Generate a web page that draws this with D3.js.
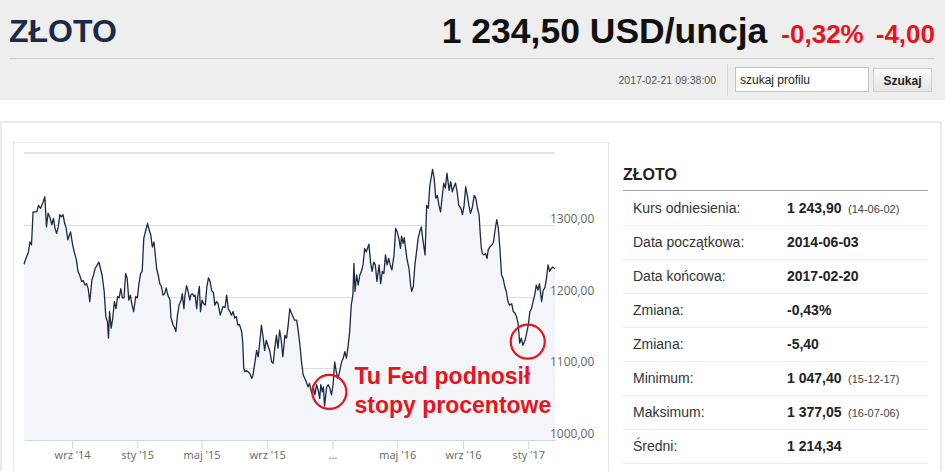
<!DOCTYPE html>
<html><head><meta charset="utf-8">
<script src="https://cdn.jsdelivr.net/npm/d3@7"></script>
<style>
html,body{margin:0;padding:0;background:#fff;overflow:hidden}
svg{display:block}
</style></head><body>
<svg id="c" width="945" height="471"></svg>
<script>
// ---- data ----
const dates = [
"2014-06-03","2014-06-07","2014-06-11","2014-06-14","2014-06-17","2014-06-20","2014-06-27","2014-06-30","2014-07-04","2014-07-09",
"2014-07-12","2014-07-15","2014-07-18","2014-07-22","2014-07-25","2014-07-28","2014-07-31","2014-08-03","2014-08-06","2014-08-09",
"2014-08-12","2014-08-15","2014-08-18","2014-08-21","2014-08-24","2014-08-29","2014-09-02","2014-09-05","2014-09-09","2014-09-12",
"2014-09-15","2014-09-19","2014-09-22","2014-09-25","2014-09-28","2014-10-01","2014-10-04","2014-10-08","2014-10-11","2014-10-14",
"2014-10-18","2014-10-21","2014-10-24","2014-10-27","2014-10-31","2014-11-03","2014-11-06","2014-11-08","2014-11-10","2014-11-13",
"2014-11-16","2014-11-19","2014-11-22","2014-11-25","2014-11-28","2014-12-01","2014-12-04","2014-12-07","2014-12-10","2014-12-13",
"2014-12-16","2014-12-19","2014-12-22","2014-12-25","2014-12-29","2015-01-01","2015-01-04","2015-01-07","2015-01-10","2015-01-13",
"2015-01-17","2015-01-20","2015-01-23","2015-01-26","2015-01-29","2015-02-01","2015-02-03","2015-02-06","2015-02-09","2015-02-12",
"2015-02-15","2015-02-18","2015-02-21","2015-02-24","2015-02-27","2015-03-03","2015-03-05","2015-03-09","2015-03-12","2015-03-14",
"2015-03-17","2015-03-20","2015-03-24","2015-03-26","2015-03-29","2015-03-31","2015-04-03","2015-04-06","2015-04-09","2015-04-11",
"2015-04-14","2015-04-17","2015-04-19","2015-04-22","2015-04-24","2015-04-27","2015-04-29","2015-05-02","2015-05-05","2015-05-08",
"2015-05-11","2015-05-14","2015-05-17","2015-05-20","2015-05-23","2015-05-26","2015-05-29","2015-06-01","2015-06-05","2015-06-08",
"2015-06-10","2015-06-14","2015-06-17","2015-06-20","2015-06-23","2015-06-26","2015-06-29","2015-07-02","2015-07-05","2015-07-08",
"2015-07-11","2015-07-15","2015-07-17","2015-07-19","2015-07-21","2015-07-24","2015-07-27","2015-07-30","2015-08-03","2015-08-05",
"2015-08-09","2015-08-12","2015-08-15","2015-08-18","2015-08-21","2015-08-24","2015-08-27","2015-08-30","2015-09-02","2015-09-06",
"2015-09-09","2015-09-12","2015-09-15","2015-09-18","2015-09-21","2015-09-24","2015-09-27","2015-09-30","2015-10-04","2015-10-07",
"2015-10-10","2015-10-13","2015-10-16","2015-10-19","2015-10-22","2015-10-26","2015-10-29","2015-11-01","2015-11-04","2015-11-07",
"2015-11-10","2015-11-13","2015-11-16","2015-11-19","2015-11-23","2015-11-26","2015-11-29","2015-12-02","2015-12-05","2015-12-08",
"2015-12-10","2015-12-13","2015-12-15","2015-12-17","2015-12-21","2015-12-24","2015-12-27","2015-12-30","2016-01-02","2016-01-05",
"2016-01-08","2016-01-11","2016-01-14","2016-01-18","2016-01-21","2016-01-24","2016-01-27","2016-01-30","2016-02-02","2016-02-05",
"2016-02-08","2016-02-10","2016-02-12","2016-02-15","2016-02-18","2016-02-21","2016-02-24","2016-02-27","2016-03-01","2016-03-04",
"2016-03-09","2016-03-12","2016-03-15","2016-03-18","2016-03-21","2016-03-24","2016-03-28","2016-03-31","2016-04-03","2016-04-06",
"2016-04-09","2016-04-12","2016-04-15","2016-04-18","2016-04-21","2016-04-25","2016-04-28","2016-05-01","2016-05-04","2016-05-07",
"2016-05-09","2016-05-12","2016-05-14","2016-05-17","2016-05-19","2016-05-23","2016-05-26","2016-05-28","2016-05-31","2016-06-03",
"2016-06-06","2016-06-09","2016-06-12","2016-06-15","2016-06-18","2016-06-22","2016-06-25","2016-06-28","2016-07-01","2016-07-06",
"2016-07-09","2016-07-12","2016-07-15","2016-07-18","2016-07-21","2016-07-24","2016-07-27","2016-07-30","2016-08-02","2016-08-06",
"2016-08-09","2016-08-12","2016-08-15","2016-08-18","2016-08-21","2016-08-24","2016-08-28","2016-08-31","2016-09-03","2016-09-06",
"2016-09-09","2016-09-12","2016-09-15","2016-09-18","2016-09-22","2016-09-25","2016-09-28","2016-10-01","2016-10-03","2016-10-05",
"2016-10-07","2016-10-10","2016-10-13","2016-10-16","2016-10-18","2016-10-21","2016-10-25","2016-10-28","2016-10-31","2016-11-03",
"2016-11-06","2016-11-09","2016-11-12","2016-11-15","2016-11-18","2016-11-21","2016-11-24","2016-11-27","2016-12-01","2016-12-04",
"2016-12-07","2016-12-10","2016-12-13","2016-12-16","2016-12-19","2016-12-22","2016-12-26","2016-12-29","2017-01-01","2017-01-04",
"2017-01-07","2017-01-10","2017-01-13","2017-01-16","2017-01-19","2017-01-22","2017-01-26","2017-01-29","2017-02-01","2017-02-04",
"2017-02-07","2017-02-10","2017-02-13","2017-02-16","2017-02-20"
];
const prices = [
1245,1254,1261,1276,1272,1318,1318,1327,1323,1332,
1339,1297,1316,1309,1300,1309,1295,1288,1297,1314,
1311,1314,1302,1295,1279,1290,1272,1262,1251,1235,
1230,1221,1222,1216,1218,1211,1193,1223,1230,1239,
1244,1248,1239,1230,1207,1172,1165,1142,1179,1156,
1170,1193,1183,1200,1198,1211,1198,1198,1232,1225,
1195,1202,1188,1179,1200,1198,1218,1232,1235,1281,
1293,1302,1293,1286,1269,1276,1262,1239,1230,1218,
1214,1202,1204,1212,1202,1195,1170,1160,1156,1151,
1174,1188,1195,1204,1183,1202,1215,1207,1195,1202,
1204,1200,1202,1183,1200,1214,1179,1195,1190,1188,
1214,1226,1221,1208,1206,1188,1193,1190,1174,1181,
1186,1185,1202,1183,1179,1174,1179,1170,1172,1160,
1161,1151,1137,1100,1095,1097,1095,1093,1086,1090,
1109,1125,1116,1137,1160,1144,1125,1139,1132,1123,
1109,1107,1128,1146,1128,1153,1139,1116,1146,1142,
1160,1183,1177,1172,1167,1167,1151,1132,1109,1091,
1086,1081,1074,1079,1065,1074,1063,1077,1070,1058,
1077,1067,1074,1047.4,1074,1077,1072,1063,1077,1109,
1095,1086,1095,1109,1114,1123,1114,1130,1151,1188,
1202,1246,1207,1230,1216,1230,1235,1244,1267,1262,
1273,1248,1235,1248,1244,1221,1244,1218,1235,1232,
1258,1244,1253,1244,1237,1258,1295,1290,1281,1267,
1284,1274,1282,1265,1253,1239,1216,1207,1214,1244,
1262,1281,1290,1297,1279,1258,1327,1323,1355,1377.05,
1365,1337,1341,1327,1318,1339,1358,1351,1372,1348,
1360,1346,1353,1358,1346,1327,1323,1314,1327,1353,
1341,1327,1316,1323,1341,1337,1323,1314,1290,1269,
1260,1258,1260,1253,1265,1269,1272,1276,1293,1307,
1295,1267,1230,1225,1214,1207,1193,1188,1190,1179,
1177,1172,1163,1135,1142,1132,1139,1149,1160,1179,
1183,1193,1202,1216,1209,1218,1193,1209,1212,1225,
1244,1235,1239,1241,1238.5
];
const yTicks = [1000, 1100, 1200, 1300];
const yTop = 1400;
const xTickDates = ["2014-09-01","2015-01-01","2015-05-01","2015-09-01","2016-01-01","2016-05-01","2016-09-01","2017-01-01"];
const xTickLabels = ["wrz '14","sty '15","maj '15","wrz '15","...","maj '16","wrz '16","sty '17"];
const circleDates = ["2015-12-26","2016-12-31"];
const circleValues = [1067, 1137];
const noteLines = ["Tu Fed podnosił","stopy procentowe"];
const noteDate = "2016-02-11";
const noteValues = [1078, 1038];
const statLabels = ["Kurs odniesienia:","Data początkowa:","Data końcowa:","Zmiana:","Zmiana:","Minimum:","Maksimum:","Średni:"];
const statValues = ["1 243,90","2014-06-03","2017-02-20","-0,43%","-5,40","1 047,40","1 377,05","1 214,34"];
const statNotes = ["(14-06-02)","","","","","(15-12-17)","(16-07-06)",""];

// ---- drawing ----
const parse = d3.utcParse("%Y-%m-%d");
const series = dates.map((d,i)=>({date:parse(d), value:prices[i]}));
const svg = d3.select("#c");
const RED = "#e8141c";
const SANS = "Liberation Sans, Arial, sans-serif";

// header
svg.append("rect").attr("x",0).attr("y",0).attr("width",945).attr("height",100).attr("fill","#eeeeee");
svg.append("text").attr("x",9).attr("y",42).text("ZŁOTO")
  .attr("font-family",SANS).attr("font-weight","bold").attr("font-size",32).attr("fill","#1c2a48");
const hdr = svg.append("text").attr("y",43).attr("text-anchor","end").attr("x",935)
  .attr("font-family",SANS).attr("font-weight","bold");
hdr.append("tspan").text("1 234,50 USD/uncja").attr("font-size",35.5).attr("fill","#111");
hdr.append("tspan").text("-0,32%").attr("font-size",26).attr("fill",RED).attr("dx",14);
hdr.append("tspan").text("-4,00").attr("font-size",26).attr("fill",RED).attr("dx",12);
svg.append("line").attr("x1",9).attr("x2",935).attr("y1",58.5).attr("y2",58.5).attr("stroke","#d2d2d2");
svg.append("text").attr("x",716).attr("y",84).attr("text-anchor","end").text("2017-02-21 09:38:00")
  .attr("font-family",SANS).attr("font-size",10.5).attr("fill","#555");
svg.append("line").attr("x1",727.5).attr("x2",727.5).attr("y1",64).attr("y2",96).attr("stroke","#d6d6d6");
svg.append("rect").attr("x",735.5).attr("y",67.5).attr("width",133).attr("height",24).attr("fill","#fff").attr("stroke","#c4c4c4");
svg.append("text").attr("x",740).attr("y",84).text("szukaj profilu")
  .attr("font-family",SANS).attr("font-size",12).attr("fill","#222");
const defs = svg.append("defs");
const g1 = defs.append("linearGradient").attr("id","btn").attr("x1",0).attr("x2",0).attr("y1",0).attr("y2",1);
g1.append("stop").attr("offset","0").attr("stop-color","#fbfbfb");
g1.append("stop").attr("offset","1").attr("stop-color","#e4e4e4");
svg.append("rect").attr("x",873.5).attr("y",68.5).attr("width",58).attr("height",23).attr("fill","url(#btn)").attr("stroke","#cfcfcf");
svg.append("text").attr("x",902.5).attr("y",85).attr("text-anchor","middle").text("Szukaj")
  .attr("font-family",SANS).attr("font-weight","bold").attr("font-size",12).attr("fill","#222");

// containers
svg.append("rect").attr("x",1).attr("y",122).attr("width",940).attr("height",400).attr("fill","none").attr("stroke","#ebebeb").attr("stroke-width",2);
svg.append("rect").attr("x",13.5).attr("y",142.5).attr("width",595).attr("height",400).attr("fill","none").attr("stroke","#e6e6e6");

// chart
const x = d3.scaleUtc().domain([parse(dates[0]), parse(dates[dates.length-1])]).range([24,555]);
const y = d3.scaleLinear().domain([1000, yTop]).range([440, 153]);
const plot = svg.append("g");
plot.selectAll("line.grid").data(yTicks.slice(1)).join("line").attr("class","grid")
  .attr("x1",x.range()[0]).attr("x2",x.range()[1])
  .attr("y1",d=>Math.round(y(d))+0.5).attr("y2",d=>Math.round(y(d))+0.5)
  .attr("stroke","#dedede");
plot.append("line").attr("x1",x.range()[0]).attr("x2",x.range()[1]).attr("y1",y(yTop)).attr("y2",y(yTop))
  .attr("stroke","#e6e6e6").attr("stroke-width",2);
plot.append("path").datum(series)
  .attr("d", d3.area().x(d=>x(d.date)).y0(y(1000)).y1(d=>y(d.value)))
  .attr("fill","#f4f5f8");
plot.append("path").datum(series)
  .attr("d", d3.line().x(d=>x(d.date)).y(d=>y(d.value)))
  .attr("fill","none").attr("stroke","#1b2947").attr("stroke-width",1.3).attr("stroke-linejoin","round");

const xAxis = d3.axisBottom(x).tickValues(xTickDates.map(parse)).tickFormat((d,i)=>xTickLabels[i])
  .tickSize(9).tickSizeOuter(0).tickPadding(2);
const ax = svg.append("g").attr("transform",`translate(0,${y(1000)})`).call(xAxis);
ax.select(".domain").attr("stroke","#ccd6eb");
ax.selectAll(".tick line").attr("stroke","#ccd6eb");
ax.selectAll(".tick text").attr("fill","#666").attr("font-family","Open Sans, sans-serif").attr("font-size",11);

const fmt = d3.formatLocale({decimal:",", thousands:"", grouping:[3], currency:["",""]}).format(".2f");
svg.selectAll("text.ylab").data(yTicks).join("text").attr("class","ylab")
  .attr("x",550).attr("y",d=>y(d)-2).text(d=>fmt(d))
  .attr("fill","#666").attr("font-family","Open Sans, sans-serif").attr("font-size",12);

// annotations
svg.selectAll("circle.mark").data(circleDates).join("circle").attr("class","mark")
  .attr("cx",(d)=>x(parse(d))).attr("cy",(d,i)=>y(circleValues[i])).attr("r",17)
  .attr("fill","none").attr("stroke",RED).attr("stroke-width",2.2);
svg.selectAll("text.note").data(noteLines).join("text").attr("class","note")
  .attr("x",x(parse(noteDate))).attr("y",(d,i)=>y(noteValues[i])).text(d=>d)
  .attr("fill",RED).attr("font-family",SANS).attr("font-weight","bold").attr("font-size",23);

// stats table
const tX = 623;
svg.append("text").attr("x",tX).attr("y",180).text("ZŁOTO")
  .attr("font-family",SANS).attr("font-weight","bold").attr("font-size",16).attr("fill","#222");
svg.append("line").attr("x1",tX).attr("x2",928).attr("y1",190.5).attr("y2",190.5).attr("stroke","#a8a8a8");
const rows = svg.selectAll("g.row").data(statLabels).join("g").attr("class","row")
  .attr("transform",(d,i)=>`translate(0,${191 + 34*i})`);
rows.append("line").attr("x1",tX).attr("x2",928).attr("y1",34.5).attr("y2",34.5).attr("stroke","#ececec");
rows.append("text").attr("x",633).attr("y",22).text(d=>d)
  .attr("font-family",SANS).attr("font-size",14).attr("fill","#333");
rows.append("text").attr("x",787).attr("y",22).text((d,i)=>statValues[i])
  .attr("font-family",SANS).attr("font-weight","bold").attr("font-size",14).attr("fill","#222");
rows.append("text").attr("x",848).attr("y",22).text((d,i)=>statNotes[i])
  .attr("font-family",SANS).attr("font-size",11).attr("fill","#444");
</script>
</body></html>
